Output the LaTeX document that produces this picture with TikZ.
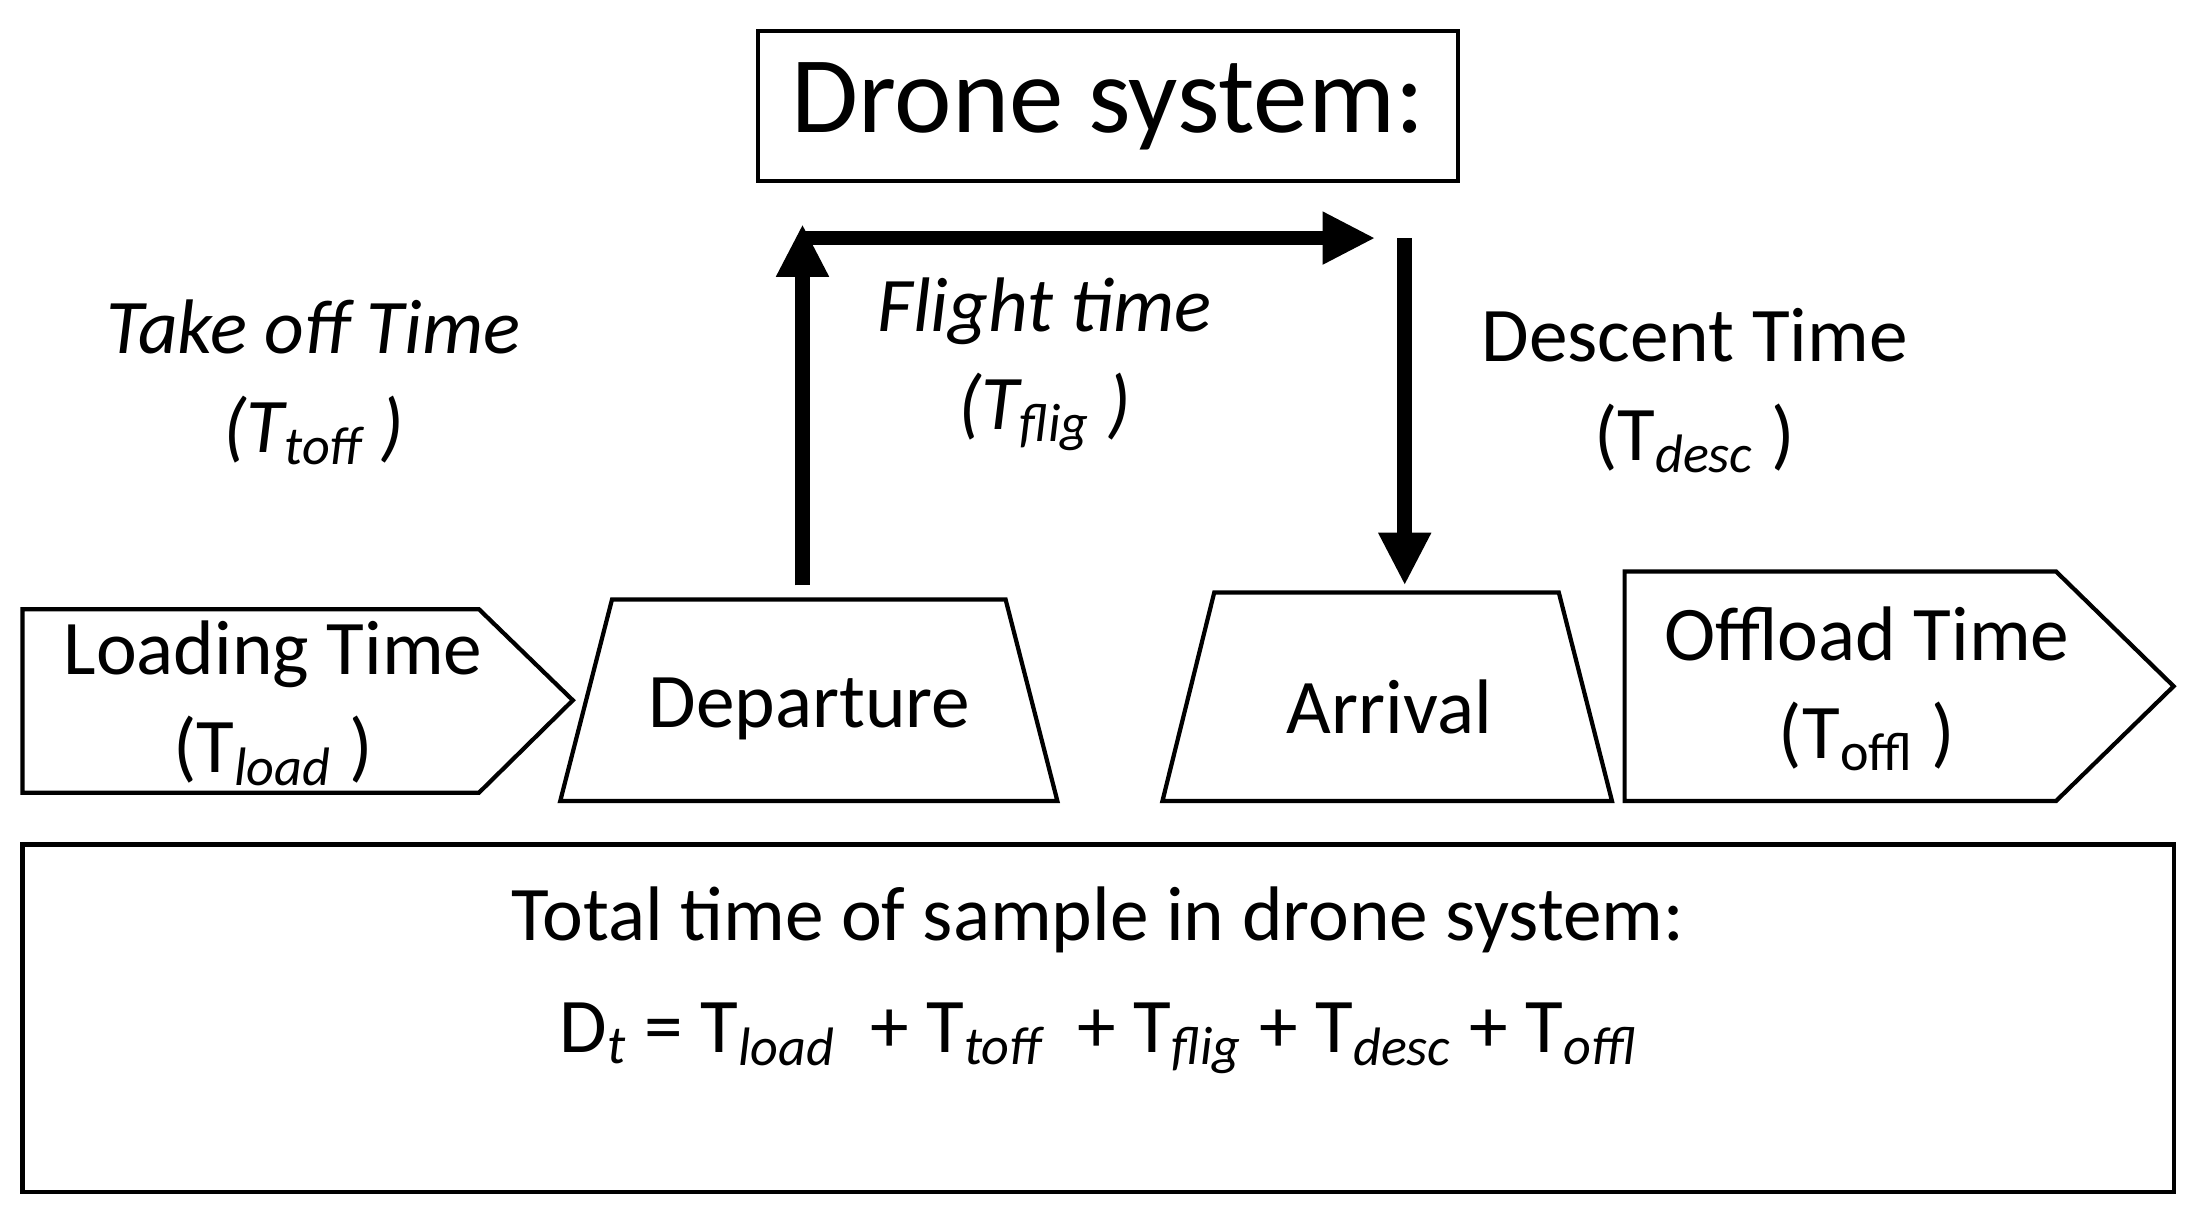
\documentclass[tikz,border=0pt]{standalone}
\usepackage{fontspec}
\setmainfont{Carlito}
\usetikzlibrary{arrows.meta}
\begin{document}
\begin{tikzpicture}[x=0.014005cm,y=-0.014005cm,
  shp/.style={draw=black,line width=1.2pt},
  lbl/.style={align=center,font=\fontsize{22}{28}\selectfont,inner sep=0pt},
  big/.style={arrows={-Triangle[length=15pt,width=14pt]},line width=4.2pt}]
\useasboundingbox (0,0) rectangle (1568,865);
\draw[shp] (541,22) rectangle (1041,129);
\node (title) at (791,76) [inner sep=0pt,font=\fontsize{31}{38}\selectfont] {Drone system:};
% shapes
\draw[shp] (16,435) -- (342,435) -- (409,500) -- (342,566) -- (16,566) -- cycle;
\draw[shp] (400,572) -- (755,572) -- (718,428) -- (437,428) -- cycle;
\draw[shp] (830,572) -- (1151,572) -- (1113,423) -- (867,423) -- cycle;
\draw[shp] (1160,408) -- (1468,408) -- (1552,490) -- (1468,572) -- (1160,572) -- cycle;
\draw[shp] (16,603) rectangle (1552,851);
\node (load) [lbl] at (195,502) {Loading Time\\(T\textsubscript{\itshape load} )};
\node (dep) [lbl] at (578,506) {Departure};
\node (arr) [lbl] at (992,505) {Arrival};
\node (offl) [lbl] at (1333,492) {Offload Time\\(T\textsubscript{offl} )};
\node (toff) [lbl,font=\fontsize{22}{28}\selectfont\itshape] at (224,273) {Take off Time\\(T\textsubscript{toff} )};
\node (flig) [lbl,font=\fontsize{22}{28}\selectfont\itshape] at (746,260) {Flight time\\(T\textsubscript{flig} )};
\node (desc) [lbl] at (1210,279) {Descent Time\\(T\textsubscript{\itshape desc} )};
\node (tot) [lbl,font=\fontsize{22}{32}\selectfont] at (784,700) {Total time of sample in drone system:\\D\textsubscript{\itshape t} = T\textsubscript{\itshape load}\ \ + T\textsubscript{\itshape toff}\ \ + T\textsubscript{\itshape flig} + T\textsubscript{\itshape desc} + T\textsubscript{\itshape offl}};
% arrows
\coordinate (c1) at (573,418);
\coordinate (c2) at (982,170);
\coordinate (c3) at (1003,170);
\draw[big] (c1) -- (573,160);
\draw[big] (571,170) -- (c2);
\draw[big] (c3) -- (1003,418);
\end{tikzpicture}
\end{document}
